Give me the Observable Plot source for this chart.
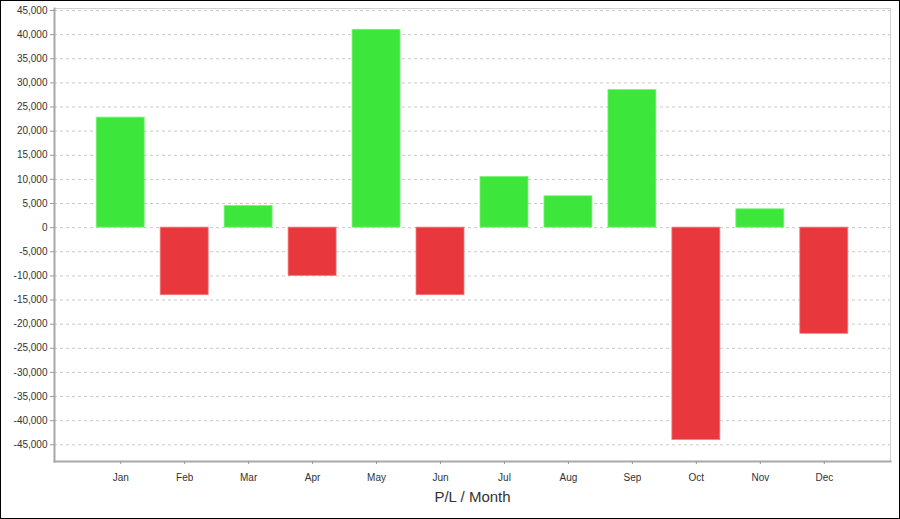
<!DOCTYPE html>
<html>
<head>
<meta charset="utf-8">
<script src="https://cdn.jsdelivr.net/npm/d3@7"></script>
<script src="https://cdn.jsdelivr.net/npm/@observablehq/plot@0.6"></script>
<style>
  html, body { margin: 0; padding: 0; background: #fff; }
  #wrap { width: 900px; height: 519px; box-sizing: border-box; border: 1px solid #000; overflow: hidden; }
  #wrap svg { display: block; }
</style>
</head>
<body>
<div id="wrap"></div>
<script>
const months = ["Jan","Feb","Mar","Apr","May","Jun","Jul","Aug","Sep","Oct","Nov","Dec"];
const pl = [22800, -14000, 4500, -10000, 41000, -14000, 10500, 6500, 28500, -44000, 3800, -22000];
const yTicks = d3.range(-45000, 45001, 5000);
const title = "P/L / Month";

const data = months.map((m, i) => ({month: m, value: pl[i]}));
const fmt = d => d.toLocaleString("en-US");

const chart = Plot.plot({
  width: 898,
  height: 517,
  marginLeft: 53,
  marginRight: 9,
  marginTop: 7,
  marginBottom: 57,
  style: {fontFamily: "Liberation Sans, Arial, sans-serif", fontSize: "10px", color: "#333", background: "#fff"},
  x: {domain: months, paddingInner: 0.25, paddingOuter: 0.66, round: false, label: null},
  y: {domain: [-48460, 45414], label: null},
  marks: [
    Plot.gridY(yTicks, {stroke: "#c8c8c8", strokeOpacity: 1, strokeDasharray: "3,3"}),
    Plot.barY(data, {x: "month", y: "value", fill: d => d.value >= 0 ? "#3ce63a" : "#e8383d", stroke: d => d.value >= 0 ? "#7cf07a" : "#f07a7d", strokeWidth: 0.8}),
    Plot.frame({stroke: "#d0d0d0"}),
    Plot.frame({anchor: "left", stroke: "#a8a8a8", strokeWidth: 2}),
    Plot.frame({anchor: "bottom", stroke: "#a8a8a8", strokeWidth: 2}),
    Plot.axisY(yTicks, {tickFormat: fmt, tickSize: 4, tickPadding: 3, stroke: "#999", fill: "#333", label: null}),
    Plot.axisX({tickSize: 3, tickPadding: 9, stroke: "#999", fill: "#333", label: null}),
    Plot.text([title], {frameAnchor: "bottom", dy: 40, fontSize: 15, fill: "#333"})
  ]
});
document.getElementById("wrap").appendChild(chart);
</script>
</body>
</html>
